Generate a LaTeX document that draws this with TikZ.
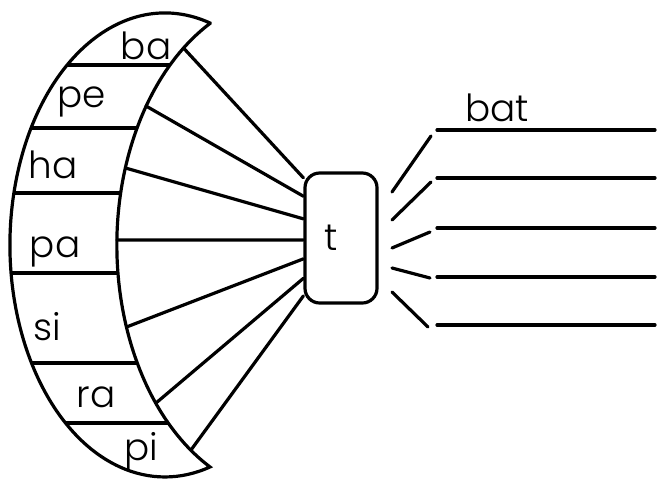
\documentclass[tikz,border=0pt]{standalone}
\usepackage{fontspec}
\setmainfont{Poppins Light}
\begin{document}
\begin{tikzpicture}[x=0.75pt,y=0.75pt,yscale=-1,xscale=1,line width=2.4pt,line cap=round,
  syl/.style={anchor=base,inner sep=0.75pt,font=\fontsize{28}{30}\selectfont},
  tbox/.style={draw,rounded corners=11pt,minimum width=54pt,minimum height=97.5pt,inner sep=0pt}]
\useasboundingbox (0,0) rectangle (658,482);

%Straight Lines: rows of the wheel
\begin{scope}
\clip (210,23) arc[start angle=286.9,end angle=73.1,x radius=155,y radius=232] arc[start angle=117.5,end angle=242.5,x radius=173,y radius=250] -- cycle;
\foreach \y in {65,128,193,273,363,423}
  \draw (0,\y) -- (300,\y);
\end{scope}
%Shape: Wheel
\draw (210,23) arc[start angle=286.9,end angle=73.1,x radius=155,y radius=232] arc[start angle=117.5,end angle=242.5,x radius=173,y radius=250] -- cycle;

%Shape: Rounded Rectangle
\node[tbox,label={[syl,anchor=center,xshift=-7.5pt]center:t}] (tb) at (341,238) {};

%Straight Lines: wheel to box
\foreach \x/\y [count=\i] in {183.5/48,146/106,125.5/168,117/240,126.5/327,156/403,191/450}
  \coordinate (s\i) at (\x,\y);
\foreach \i/\a in {1/122.7,2/132,3/153.4,4/183,5/209,6/227.3,7/237.7}
  \draw (s\i) -- (tb.\a);

%Straight Lines: answer lines
\foreach \y [count=\i] in {130,178,228,277,325}{
  \coordinate (r\i) at (437,\y);
  \draw (r\i) -- (655,\y);
}
\draw (392,192) -- (431,136);
\draw (392,220) -- (431,182);
\draw (392,248) -- (430,232);
\draw (392,268) -- (430,278);
\draw (392,292) -- (428,327);

% Text Node
\node[syl] (ba) at (146,59) {ba};
\node[syl] (pe) at (82,107) {pe};
\node[syl] (ha) at (53,178) {ha};
\node[syl] (pa) at (55,257) {pa};
\node[syl] (si) at (47,340) {si};
\node[syl] (ra) at (96,407) {ra};
\node[syl] (pi) at (141,460) {pi};
\node[syl] (bat) at (497,121) {bat};

\end{tikzpicture}
\end{document}
